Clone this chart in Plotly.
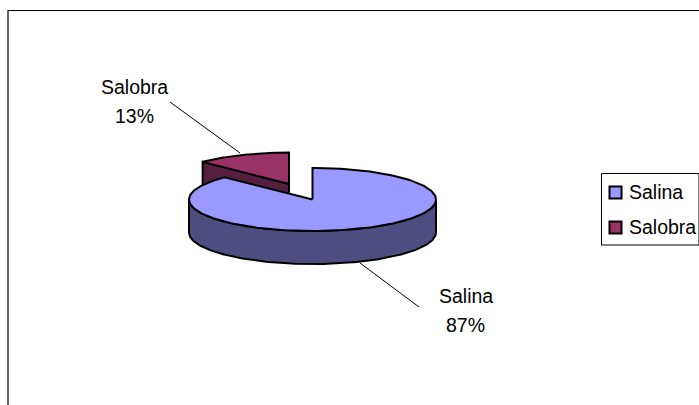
import numpy as np
import plotly.graph_objects as go

categories = ["Salina", "Salobra"]
values = [87.4, 12.6]
percent_labels = [f"{round(v / sum(values) * 100)}%" for v in values]
top_colors = ["#9999FF", "#993366"]
side_colors = ["#4D4D80", "#55203F"]

W, H = 699, 405
CX, CY, RX, RY, DEPTH = 312.5, 199.5, 123.5, 31.5, 33
EXPLODE = (-22, -15.5)
FONT = dict(family="Liberation Sans, Arial, sans-serif", size=19.5, color="black")
EDGE = dict(color="black", width=2)


def point(t, off=(0, 0), drop=0):
    return (CX + off[0] + RX * np.sin(t), CY + off[1] + drop - RY * np.cos(t))


def poly(name, color, xs, ys):
    return go.Scatter(x=xs, y=ys, mode="lines", fill="toself", fillcolor=color, line=EDGE,
                      name=name, hoverinfo="name", showlegend=False)


sweep = 2 * np.pi * values[0] / sum(values)
salina_t = np.linspace(0, sweep, 240)
salobra_t = np.linspace(sweep, 2 * np.pi, 60)

fig = go.Figure()

# Salobra: exploded slice, cut wall first, then the top face
ax, ay = CX + EXPLODE[0] - 1.5, CY + EXPLODE[1]
tip_x, tip_y = point(sweep, EXPLODE)
fig.add_trace(poly(categories[1], side_colors[1],
                   [ax, tip_x, tip_x, ax, ax], [ay, tip_y, tip_y + DEPTH, ay + DEPTH, ay]))
sx, sy = point(salobra_t, EXPLODE)
sx = np.minimum(sx, ax)
fig.add_trace(poly(categories[1], top_colors[1],
                   np.r_[ax, sx, ax], np.r_[ay, sy, ay]))

# Salina: outer wall, then the top face
wall_t = np.linspace(np.pi / 2, 3 * np.pi / 2, 160)
wx, wy = point(wall_t)
bx, by = point(wall_t[::-1], drop=DEPTH)
fig.add_trace(poly(categories[0], side_colors[0], np.r_[wx, bx, wx[0]], np.r_[wy, by, wy[0]]))
tx, ty = point(salina_t)
fig.add_trace(poly(categories[0], top_colors[0], np.r_[CX, tx, CX], np.r_[CY, ty, CY]))

# Legend swatches
fig.add_trace(go.Scatter(
    x=[615.5, 615.5], y=[192.5, 227.5], mode="markers", hoverinfo="skip", showlegend=False,
    marker=dict(symbol="square", size=12, color=top_colors, line=dict(color="black", width=2)),
))

shapes = [
    dict(type="line", x0=8, x1=8, y0=10, y1=405, line=dict(color="#333333", width=1.5)),
    dict(type="line", x0=8, x1=699, y0=10.5, y1=10.5, line=dict(color="black", width=1)),
    dict(type="rect", x0=601.5, x1=699, y0=173.5, y1=245, line=dict(color="black", width=1)),
    dict(type="line", x0=170, x1=240, y0=102, y1=153, line=dict(color="black", width=1)),
    dict(type="line", x0=360, x1=419, y0=263, y1=307, line=dict(color="black", width=1)),
]

label_pos = {categories[0]: (465.5, 296), categories[1]: (134, 87)}
annotations = []
for name, pct in zip(categories, percent_labels):
    lx, ly = label_pos[name]
    for text, y in ((name, ly), (pct, ly + 28.5)):
        annotations.append(dict(x=lx, y=y, text=text, showarrow=False, font=FONT,
                                xanchor="center", yanchor="middle"))
for name, y in zip(categories, (192, 227)):
    annotations.append(dict(x=627, y=y, text=name, showarrow=False, font=FONT,
                            xanchor="left", yanchor="middle"))

fig.update_layout(
    width=W, height=H, margin=dict(l=0, r=0, t=0, b=0),
    paper_bgcolor="white", plot_bgcolor="white", showlegend=False,
    xaxis=dict(range=[0, W], visible=False, fixedrange=True),
    yaxis=dict(range=[H, 0], visible=False, fixedrange=True),
    shapes=shapes, annotations=annotations,
)

fig.write_html("out.html", config={"displayModeBar": False},
               post_script="document.body.style.margin='0';document.body.style.overflow='hidden';")
